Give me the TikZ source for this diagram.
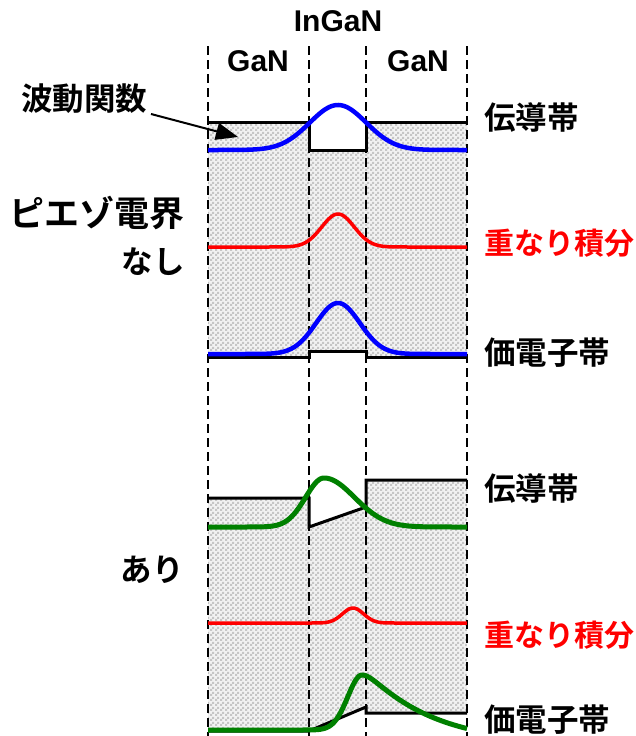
\documentclass[tikz,border=0pt]{standalone}
\usepackage{fontspec}
\setmainfont{Liberation Sans}
\newfontfamily\jp{Noto Sans CJK JP}[BoldFont={Noto Sans CJK JP Bold}]
\usetikzlibrary{arrows.meta,patterns.meta}
\definecolor{wgreen}{RGB}{0,128,0}
\tikzdeclarepattern{
  name=checks,
  type=uncolored,
  bounding box={(0pt,0pt) and (5pt,5pt)},
  tile size={(5pt,5pt)},
  code={
    \fill (0pt,0pt) rectangle (2.5pt,2.5pt);
    \fill (2.5pt,2.5pt) rectangle (5pt,5pt);
  }
}
\tikzset{
  gapfill/.style={preaction={fill=gray!10}, pattern=checks, pattern color=gray!45},
  band/.style={draw=black, line width=3pt, line join=miter},
  divider/.style={draw=black, line width=1.5pt, dash pattern=on 9pt off 5pt},
  wfblue/.style={draw=blue, line width=4.5pt, line join=round},
  wfred/.style={draw=red, line width=3.5pt, line join=round},
  wfgreen/.style={draw=wgreen, line width=5pt, line join=round},
  lat/.style={font=\fontsize{30}{36}\selectfont\bfseries, inner sep=0pt},
  jlab/.style={font=\jp\fontsize{30}{36}\selectfont\bfseries, inner sep=0pt},
  jmid/.style={font=\jp\fontsize{31.5}{38}\selectfont\bfseries, inner sep=0pt},
  jbig/.style={font=\jp\fontsize{35}{42}\selectfont\bfseries, inner sep=0pt},
}
\begin{document}
\begin{tikzpicture}[x=1pt,y=-1pt]
\useasboundingbox (0,0) rectangle (635,736);

% gap regions
\path[gapfill] (208,122) -- (309,122) -- (309,150) -- (366,150) -- (366,122) -- (467,122)
  -- (467,357) -- (366,357) -- (366,351) -- (309,351) -- (309,357) -- (208,357) -- cycle;
\path[gapfill] (208,498) -- (309,498) -- (309,527) -- (366,507) -- (366,480) -- (467,480)
  -- (467,713) -- (366,713) -- (366,707) -- (309,731) -- (208,731) -- cycle;

% dividers
\foreach \xx in {208,309,366,467} \draw[divider] (\xx,46) -- (\xx,736);

% bands
\draw[band] (208,122) -- (309,122) -- (309,150) -- (366,150) -- (366,122) -- (467,122);
\draw[band] (208,357) -- (309,357) -- (309,351) -- (366,351) -- (366,357) -- (467,357);
\draw[band] (208,498) -- (309,498) -- (309,527) -- (366,507) -- (366,480) -- (467,480);
\draw[band] (208,731) -- (309,731) -- (366,707) -- (366,713) -- (467,713);

% wavefunctions, no field
\draw[wfblue] plot[domain=208:467, samples=160] (\x,{150-45*exp(max(-20,0-((\x-338)/40)^2))});
\draw[wfred] plot[domain=208:467, samples=160] (\x,{247-33*exp(max(-20,0-((\x-338)/23)^2))});
\draw[wfblue] plot[domain=208:467, samples=160] (\x,{354-51*exp(max(-20,0-((\x-338)/31)^2))});

% wavefunctions, with field
\draw[wfgreen] plot[domain=208:324, samples=90] (\x,{527-49*exp(max(-20,0-((\x-324)/26)^2))})
  -- plot[domain=324:467, samples=110] (\x,{527-49*exp(max(-20,0-((\x-324)/43)^2))});
\draw[wfred] plot[domain=208:467, samples=160] (\x,{623-15*exp(max(-20,0-((\x-353)/15)^2))});
\draw[wfgreen] plot[domain=208:362, samples=110] (\x,{730-55*exp(max(-20,0-((\x-362)/20)^2))})
  -- plot[domain=362:467, samples=90] (\x,{745-70*exp(0-(sqrt((\x-362)^2+100)-10)/66)});

% labels
\node[lat] (ingan) at (338,21) {InGaN};
\node[lat] (gan1) at (258,61) {GaN};
\node[lat] (gan2) at (418,61) {GaN};
\node[jmid] (wf) at (84,99) {波動関数};
\coordinate (wftip) at (238,137);
\draw[line width=2pt, -{Triangle[length=22pt,width=17pt]}] (151,114) -- (wftip);

\node[jmid, anchor=west] (cb1) at (484,117) {伝導帯};
\node[jlab, anchor=west, text=red] (ov1) at (484,243) {重なり積分};
\node[jmid, anchor=west] (vb1) at (484,353) {価電子帯};
\node[jmid, anchor=west] (cb2) at (484,488) {伝導帯};
\node[jlab, anchor=west, text=red] (ov2) at (484,635) {重なり積分};
\node[jmid, anchor=west] (vb2) at (484,720) {価電子帯};

\node[jbig, anchor=east] (piezo) at (185,213) {ピエゾ電界};
\node[jmid, anchor=east] (nashi) at (185,262) {なし};
\node[jmid, anchor=east] (ari) at (184,570) {あり};
\end{tikzpicture}
\end{document}
